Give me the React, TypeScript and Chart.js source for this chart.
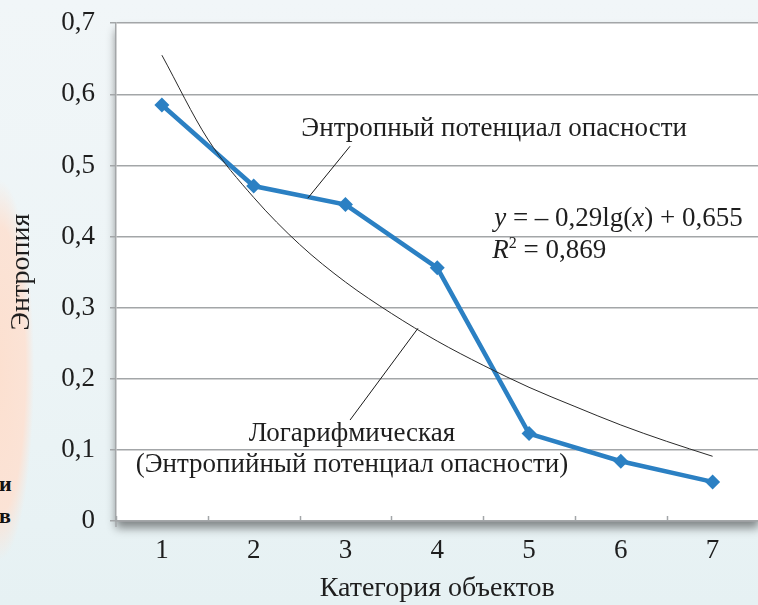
import React, { useEffect, useRef } from 'react';
import { Chart, registerables } from 'chart.js';

Chart.register(...registerables);

const categories = ['1', '2', '3', '4', '5', '6', '7'];
const categoryX = [1, 2, 3, 4, 5, 6, 7];
const entropyValues = [0.585, 0.471, 0.445, 0.356, 0.123, 0.084, 0.055];
const trendX = [1, 1.5, 2, 2.5, 3, 3.5, 4, 4.5, 5, 5.5, 6, 6.5, 7];
const trendValues = [0.655, 0.537, 0.455, 0.389, 0.336, 0.292, 0.253, 0.219, 0.188, 0.161, 0.135, 0.112, 0.091];
const yMin = 0;
const yMax = 0.7;
const yStep = 0.1;

const FONT = '"Liberation Serif", "DejaVu Serif", serif';
const BLUE = '#2b80c3';
const GRID = '#a3a6a8';
const TXT = '#1e1e1e';

const decorPlugin = {
  id: 'decor',
  beforeDraw(chart: any) {
    const { ctx, chartArea } = chart;
    const { left, top, right, bottom } = chartArea;
    ctx.save();
    ctx.shadowColor = 'rgba(0,0,0,0.45)';
    ctx.shadowBlur = 9;
    ctx.shadowOffsetY = 7;
    ctx.fillStyle = '#ffffff';
    ctx.fillRect(left, top, right - left, bottom - top);
    ctx.restore();
    ctx.save();
    ctx.fillStyle = '#ffffff';
    ctx.fillRect(left, top, right - left, bottom - top);
    ctx.restore();
  },
  afterDraw(chart: any) {
    const { ctx, chartArea } = chart;
    const xs = chart.scales.x;
    const ys = chart.scales.y;
    const px = (v: number) => xs.getPixelForValue(v);
    const py = (v: number) => ys.getPixelForValue(v);
    ctx.save();
    ctx.strokeStyle = GRID;
    ctx.lineWidth = 1.5;
    for (let k = 0; k <= categories.length; k++) {
      const x = Math.round(px(k + 0.5)) + 0.5;
      ctx.beginPath();
      ctx.moveTo(x, chartArea.bottom);
      ctx.lineTo(x, chartArea.bottom - 5);
      ctx.stroke();
    }
    ctx.beginPath();
    ctx.moveTo(chartArea.left, chartArea.bottom);
    ctx.lineTo(chartArea.left, chartArea.bottom + 6);
    ctx.stroke();

    ctx.strokeStyle = '#1a1a1a';
    ctx.lineWidth = 1;
    ctx.beginPath();
    ctx.moveTo(px(3.05), py(0.527));
    ctx.lineTo(px(2.59), py(0.454));
    ctx.stroke();
    ctx.beginPath();
    ctx.moveTo(px(3.05), py(0.142));
    ctx.lineTo(px(3.79), py(0.271));
    ctx.stroke();

    ctx.fillStyle = TXT;
    ctx.textBaseline = 'middle';
    ctx.font = `27px ${FONT}`;
    ctx.textAlign = 'center';
    ctx.fillText('Энтропный потенциал опасности', px(4.62), py(0.551));
    ctx.fillText('Логарифмическая', px(3.07), py(0.122));
    ctx.fillText('(Энтропийный потенциал опасности)', px(3.07), py(0.0785));

    ctx.textAlign = 'left';
    const parts: [string, boolean][] = [
      ['y', true],
      [' = – 0,29lg(', false],
      ['x', true],
      [') + 0,655', false],
    ];
    let x = px(4.62);
    const yEq = py(0.425);
    for (const [t, it] of parts) {
      ctx.font = `${it ? 'italic ' : ''}27px ${FONT}`;
      ctx.fillText(t, x, yEq);
      x += ctx.measureText(t).width;
    }
    let xr = px(4.6);
    const yR = py(0.38);
    ctx.font = `italic 27px ${FONT}`;
    ctx.fillText('R', xr, yR);
    xr += ctx.measureText('R').width;
    ctx.font = `16px ${FONT}`;
    ctx.fillText('2', xr, yR - 7);
    xr += ctx.measureText('2').width;
    ctx.font = `27px ${FONT}`;
    ctx.fillText(' = 0,869', xr, yR);
    ctx.restore();
  },
};

export default function App() {
  const canvasRef = useRef<HTMLCanvasElement | null>(null);

  useEffect(() => {
    if (!canvasRef.current) return;
    const chart = new Chart(canvasRef.current, {
      type: 'line',
      data: {
        datasets: [
          {
            label: 'Логарифмическая (Энтропийный потенциал опасности)',
            data: trendX.map((x, i) => ({ x, y: trendValues[i] })),
            borderColor: '#2a2a2a',
            borderWidth: 1,
            pointRadius: 0,
            cubicInterpolationMode: 'monotone',
            fill: false,
            xAxisID: 'x',
          },
          {
            label: 'Энтропный потенциал опасности',
            data: categoryX.map((x, i) => ({ x, y: entropyValues[i] })),
            borderColor: BLUE,
            backgroundColor: BLUE,
            borderWidth: 4.5,
            pointStyle: 'rectRot',
            pointRadius: 7.5,
            pointBorderWidth: 0,
            pointBackgroundColor: BLUE,
            tension: 0,
            fill: false,
            xAxisID: 'x',
          },
        ],
      },
      options: {
        animation: false,
        responsive: true,
        maintainAspectRatio: false,
        layout: { padding: { left: 0, right: 0, top: 6, bottom: 0 } },
        plugins: { legend: { display: false }, tooltip: { enabled: false } },
        scales: {
          x: {
            type: 'linear',
            min: 0.5,
            max: 7.5,
            display: false,
          },
          xc: {
            type: 'category',
            labels: categories,
            position: 'bottom',
            offset: true,
            grid: { display: true, drawOnChartArea: false, drawTicks: false, offset: true },
            border: { display: true, color: GRID, width: 1.5 },
            ticks: { color: TXT, font: { family: FONT, size: 27 }, padding: 14, maxRotation: 0 },
            title: {
              display: true,
              text: 'Категория объектов',
              color: TXT,
              font: { family: FONT, size: 28 },
              padding: { top: 0, bottom: 0 },
            },
            afterFit: (s: any) => { s.height = 84; },
          },
          y: {
            type: 'linear',
            min: yMin,
            max: yMax,
            ticks: {
              stepSize: yStep,
              color: TXT,
              font: { family: FONT, size: 27 },
              padding: 15,
              callback: (v: any) => (Number(v) === 0 ? '0' : Number(v).toFixed(1).replace('.', ',')),
            },
            grid: { color: GRID, lineWidth: 1.5, tickLength: 6, drawTicks: true },
            border: { display: true, color: GRID, width: 1.5 },
            title: {
              display: true,
              text: 'Энтропия',
              color: TXT,
              font: { family: FONT, size: 28 },
              padding: { top: 5, bottom: 0 },
            },
            afterFit: (s: any) => { s.width = 116; },
          },
        },
      },
      plugins: [decorPlugin],
    });
    return () => chart.destroy();
  }, []);

  return (
    <div
      style={{
        position: 'fixed',
        left: 0,
        top: 0,
        width: 758,
        height: 605,
        overflow: 'hidden',
        background:
          'radial-gradient(ellipse 34px 190px at 0px 370px, rgba(252,224,208,1) 0%, rgba(252,226,212,0.95) 75%, rgba(252,228,214,0) 100%), linear-gradient(180deg, #f1f6f8 0%, #ecf4f6 60%, #e6f1f3 100%)',
      }}
    >
      <span style={{ position: 'absolute', left: -1, top: 471, font: `bold 22px ${FONT}`, color: '#111' }}>и</span>
      <span style={{ position: 'absolute', left: -1, top: 503, font: `bold 22px ${FONT}`, color: '#111' }}>в</span>
      <div style={{ position: 'absolute', left: 0, top: -8, width: 766, height: 613 }}>
        <canvas ref={canvasRef} />
      </div>
    </div>
  );
}
